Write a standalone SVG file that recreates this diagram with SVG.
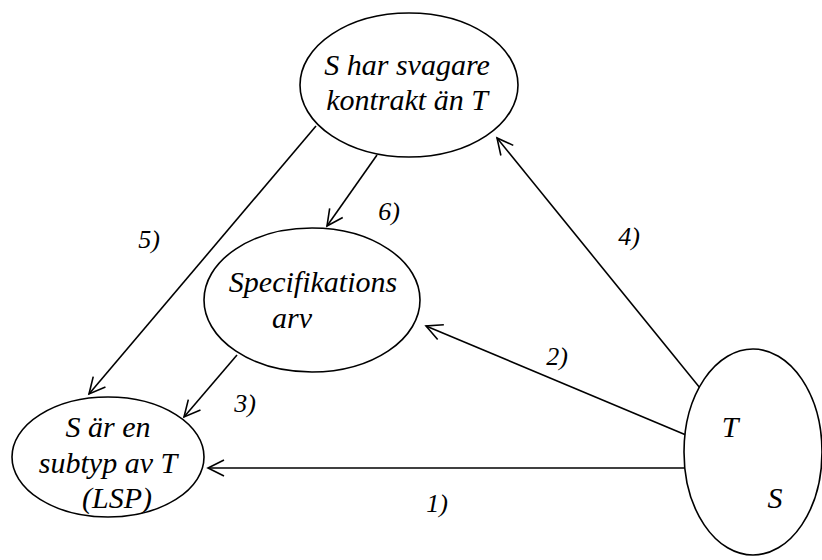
<svg xmlns="http://www.w3.org/2000/svg" width="822" height="560" viewBox="0 0 822 560">
<defs>
<marker id="a" markerUnits="userSpaceOnUse" markerWidth="24" markerHeight="24" refX="16" refY="8" orient="auto" overflow="visible">
<path d="M0,0 L16,8 L0,16" fill="none" stroke="#000" stroke-width="1.6"/>
</marker>
</defs>
<rect width="822" height="560" fill="#fff"/>
<g id="connectors" stroke="#000" stroke-width="1.6" fill="none" marker-end="url(#a)">
<line x1="684" y1="468" x2="208" y2="468"/>
<line x1="686" y1="435" x2="426" y2="326"/>
<line x1="700" y1="388" x2="497" y2="138"/>
<line x1="316" y1="126" x2="89" y2="394"/>
<line x1="377" y1="155" x2="327" y2="226"/>
<line x1="237" y1="355" x2="184" y2="417"/>
</g>
<g id="labels">
<text x="437" y="512" font-family="Liberation Serif" font-style="italic" font-size="26" text-anchor="middle" style="font-family:'Liberation Serif',serif !important;font-style:italic !important">1)</text>
<text x="557" y="365" font-family="Liberation Serif" font-style="italic" font-size="26" text-anchor="middle" style="font-family:'Liberation Serif',serif !important;font-style:italic !important">2)</text>
<text x="245" y="412" font-family="Liberation Serif" font-style="italic" font-size="26" text-anchor="middle" style="font-family:'Liberation Serif',serif !important;font-style:italic !important">3)</text>
<text x="629" y="245" font-family="Liberation Serif" font-style="italic" font-size="26" text-anchor="middle" style="font-family:'Liberation Serif',serif !important;font-style:italic !important">4)</text>
<text x="149" y="248" font-family="Liberation Serif" font-style="italic" font-size="26" text-anchor="middle" style="font-family:'Liberation Serif',serif !important;font-style:italic !important">5)</text>
<text x="389" y="220" font-family="Liberation Serif" font-style="italic" font-size="26" text-anchor="middle" style="font-family:'Liberation Serif',serif !important;font-style:italic !important">6)</text>
</g>
<g id="node-top">
<ellipse cx="409" cy="85" rx="109" ry="72" fill="#fff" stroke="#000" stroke-width="1.6"/>
<text x="407" y="75" font-family="Liberation Serif" font-style="italic" font-size="30" text-anchor="middle" style="font-family:'Liberation Serif',serif !important;font-style:italic !important">S har svagare</text>
<text x="407" y="110" font-family="Liberation Serif" font-style="italic" font-size="30" text-anchor="middle" style="font-family:'Liberation Serif',serif !important;font-style:italic !important">kontrakt än T</text>
</g>
<g id="node-spec">
<ellipse cx="312" cy="300" rx="108" ry="72" fill="#fff" stroke="#000" stroke-width="1.6"/>
<text x="313" y="292" font-family="Liberation Serif" font-style="italic" font-size="30" text-anchor="middle" style="font-family:'Liberation Serif',serif !important;font-style:italic !important">Specifikations</text>
<text x="292" y="328" font-family="Liberation Serif" font-style="italic" font-size="30" text-anchor="middle" style="font-family:'Liberation Serif',serif !important;font-style:italic !important">arv</text>
</g>
<g id="node-lsp">
<ellipse cx="108" cy="457" rx="96" ry="60" fill="#fff" stroke="#000" stroke-width="1.6"/>
<text x="108" y="437" font-family="Liberation Serif" font-style="italic" font-size="30" text-anchor="middle" style="font-family:'Liberation Serif',serif !important;font-style:italic !important">S är en</text>
<text x="108" y="473" font-family="Liberation Serif" font-style="italic" font-size="30" text-anchor="middle" style="font-family:'Liberation Serif',serif !important;font-style:italic !important">subtyp av T</text>
<text x="117" y="508" font-family="Liberation Serif" font-style="italic" font-size="30" text-anchor="middle" style="font-family:'Liberation Serif',serif !important;font-style:italic !important">(LSP)</text>
</g>
<g id="node-ts">
<ellipse cx="753" cy="452" rx="69" ry="103" fill="#fff" stroke="#000" stroke-width="1.6"/>
<text x="730" y="437" font-family="Liberation Serif" font-style="italic" font-size="30" text-anchor="middle" style="font-family:'Liberation Serif',serif !important;font-style:italic !important">T</text>
<text x="775" y="508" font-family="Liberation Serif" font-style="italic" font-size="30" text-anchor="middle" style="font-family:'Liberation Serif',serif !important;font-style:italic !important">S</text>
</g>
</svg>
